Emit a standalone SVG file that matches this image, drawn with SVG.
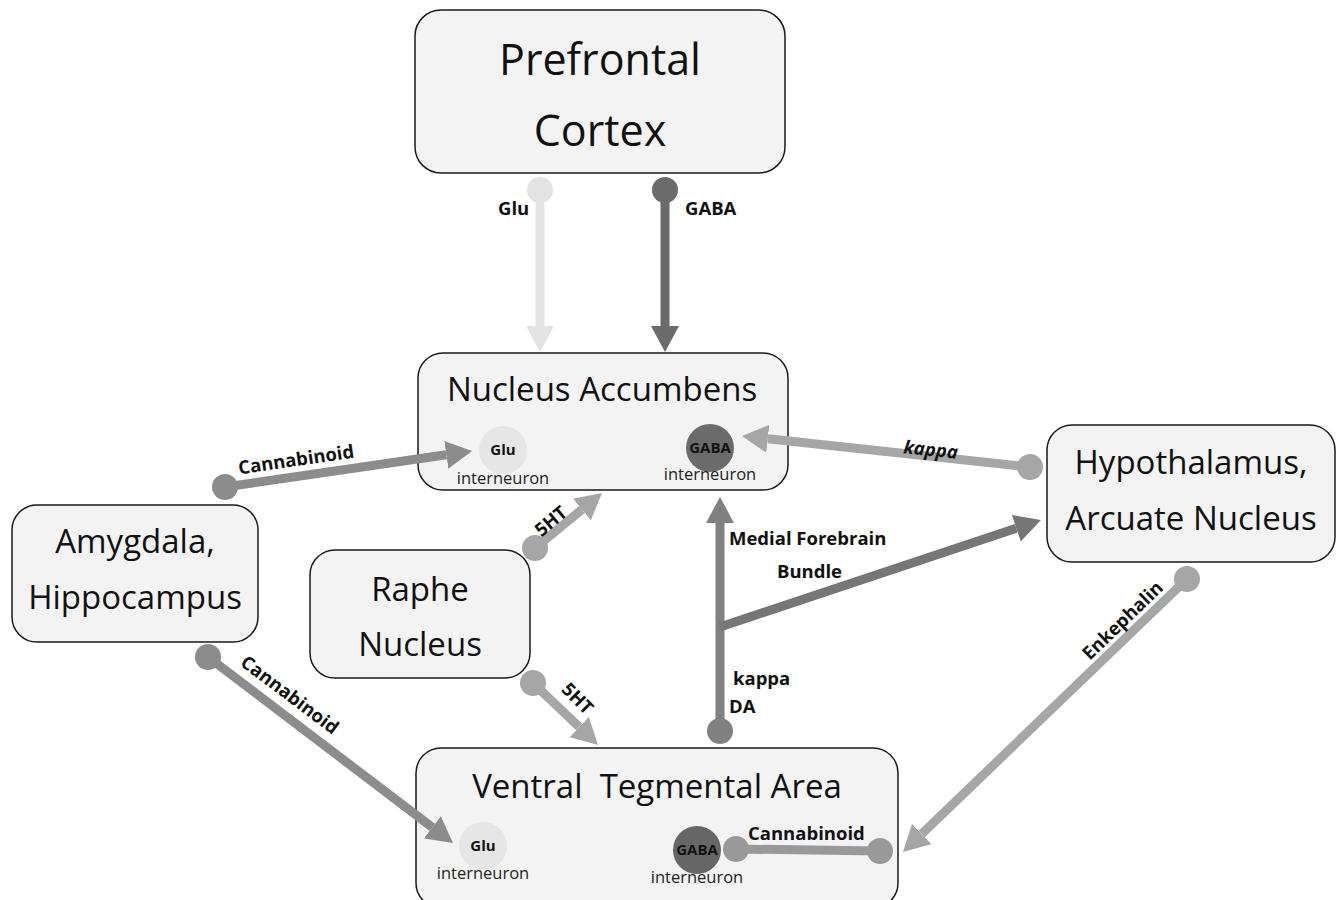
<svg xmlns="http://www.w3.org/2000/svg" width="1341" height="900" viewBox="0 0 1341 900">
<style>
.box{fill:#f3f3f3;stroke:#1a1a1a;stroke-width:1.5}
.title{font-family:"Open Sans","Liberation Sans",sans-serif;font-size:33px;fill:#111;text-anchor:middle}
.big{font-size:43px}
.lbl{font-family:"Open Sans","Liberation Sans",sans-serif;font-size:18.5px;font-weight:bold;fill:#111}
.small{font-family:"Open Sans","Liberation Sans",sans-serif;font-size:16.5px;fill:#222;text-anchor:middle}
.cin{font-family:"Open Sans","Liberation Sans",sans-serif;font-size:15px;font-weight:bold;fill:#111;text-anchor:middle}
.ln{fill:none;stroke-width:9}
</style>
<defs>
<marker id="aL" markerUnits="userSpaceOnUse" markerWidth="26" markerHeight="28" viewBox="0 0 26 28" refX="0" refY="14" orient="auto"><path d="M0,0 L26,14 L0,28 z" fill="#e3e3e3"/></marker>
<marker id="aD" markerUnits="userSpaceOnUse" markerWidth="26" markerHeight="28" viewBox="0 0 26 28" refX="0" refY="14" orient="auto"><path d="M0,0 L26,14 L0,28 z" fill="#6b6b6b"/></marker>
<marker id="aK" markerUnits="userSpaceOnUse" markerWidth="26" markerHeight="28" viewBox="0 0 26 28" refX="0" refY="14" orient="auto"><path d="M0,0 L26,14 L0,28 z" fill="#a6a6a6"/></marker>
<marker id="aC" markerUnits="userSpaceOnUse" markerWidth="26" markerHeight="28" viewBox="0 0 26 28" refX="0" refY="14" orient="auto"><path d="M0,0 L26,14 L0,28 z" fill="#8c8c8c"/></marker>
<marker id="aM" markerUnits="userSpaceOnUse" markerWidth="26" markerHeight="28" viewBox="0 0 26 28" refX="0" refY="14" orient="auto"><path d="M0,0 L26,14 L0,28 z" fill="#808080"/></marker>
<marker id="aB" markerUnits="userSpaceOnUse" markerWidth="26" markerHeight="28" viewBox="0 0 26 28" refX="0" refY="14" orient="auto"><path d="M0,0 L26,14 L0,28 z" fill="#767676"/></marker>
</defs>
<rect width="1341" height="900" fill="#fff"/>

<g id="prefrontal-cortex">
<rect class="box" x="415" y="10" width="370" height="163" rx="26"/>
<text class="title big" x="600" y="75">Prefrontal</text>
<text class="title big" x="600" y="146">Cortex</text>
</g>

<g id="nucleus-accumbens">
<rect class="box" x="418" y="353" width="370" height="137" rx="25"/>
<text class="title" x="602" y="401">Nucleus Accumbens</text>
<circle cx="503" cy="450" r="24" fill="#e6e6e6"/>
<text class="cin" x="503" y="455">Glu</text>
<text class="small" x="503" y="484">interneuron</text>
<circle cx="710" cy="448" r="24" fill="#6b6b6b"/>
<text class="cin" x="710" y="453">GABA</text>
<text class="small" x="710" y="480">interneuron</text>
</g>

<g id="hypothalamus">
<rect class="box" x="1047" y="425" width="288" height="137" rx="25"/>
<text class="title" x="1191" y="474">Hypothalamus,</text>
<text class="title" x="1191" y="530">Arcuate Nucleus</text>
</g>

<g id="amygdala-hippocampus">
<rect class="box" x="12" y="505" width="246" height="137" rx="25"/>
<text class="title" x="135" y="553">Amygdala,</text>
<text class="title" x="135" y="609">Hippocampus</text>
</g>

<g id="raphe-nucleus">
<rect class="box" x="310" y="550" width="220" height="128" rx="25"/>
<text class="title" x="420" y="601">Raphe</text>
<text class="title" x="420" y="656">Nucleus</text>
</g>

<g id="ventral-tegmental-area">
<rect class="box" x="416" y="748" width="482" height="160" rx="25"/>
<text class="title" x="657" y="798" xml:space="preserve">Ventral  Tegmental Area</text>
<circle cx="483" cy="846" r="24" fill="#e6e6e6"/>
<text class="cin" x="483" y="851">Glu</text>
<text class="small" x="483" y="879">interneuron</text>
<circle cx="697" cy="850" r="24" fill="#666"/>
<text class="cin" x="697" y="855">GABA</text>
<text class="small" x="697" y="883">interneuron</text>
</g>

<g id="connectors">
<!-- Glu PFC -> NAc -->
<line class="ln" x1="540" y1="190" x2="540" y2="326" stroke="#e3e3e3" stroke-width="8" marker-end="url(#aL)"/>
<circle cx="540" cy="190" r="13" fill="#e3e3e3"/>
<text class="lbl" x="498" y="215">Glu</text>
<!-- GABA PFC -> NAc -->
<line class="ln" x1="665" y1="190" x2="665" y2="326" stroke="#6b6b6b" stroke-width="8" marker-end="url(#aD)"/>
<circle cx="665" cy="190" r="13" fill="#6b6b6b"/>
<text class="lbl" x="685" y="215">GABA</text>
<!-- kappa Hypothalamus -> NAc GABA -->
<line class="ln" x1="1030" y1="467" x2="767.8" y2="438.8" stroke="#a6a6a6" marker-end="url(#aK)"/>
<circle cx="1030" cy="467" r="13" fill="#a6a6a6"/>
<text class="lbl" x="930" y="456" text-anchor="middle" font-style="italic" transform="rotate(6 930 456)">kappa</text>
<!-- Cannabinoid Amygdala -> NAc Glu -->
<line class="ln" x1="225" y1="487" x2="446.3" y2="454.8" stroke="#8c8c8c" marker-end="url(#aC)"/>
<circle cx="225" cy="487" r="13" fill="#8c8c8c"/>
<text class="lbl" x="297" y="466" text-anchor="middle" transform="rotate(-8.3 297 466)">Cannabinoid</text>
<!-- Cannabinoid Amygdala -> VTA Glu -->
<line class="ln" x1="208" y1="657" x2="432.3" y2="827.3" stroke="#8c8c8c" marker-end="url(#aC)"/>
<circle cx="208" cy="657" r="13" fill="#8c8c8c"/>
<text class="lbl" x="286" y="700" text-anchor="middle" transform="rotate(37 286 700)">Cannabinoid</text>
<!-- 5HT Raphe -> NAc -->
<line class="ln" x1="535" y1="548" x2="581.9" y2="509.5" stroke="#a6a6a6" marker-end="url(#aK)"/>
<circle cx="535" cy="548" r="13" fill="#a6a6a6"/>
<text class="lbl" x="555" y="526" text-anchor="middle" transform="rotate(-40 555 526)">5HT</text>
<!-- 5HT Raphe -> VTA -->
<line class="ln" x1="533" y1="683" x2="579.2" y2="727.1" stroke="#a6a6a6" marker-end="url(#aK)"/>
<circle cx="533" cy="683" r="13" fill="#a6a6a6"/>
<text class="lbl" x="573" y="703" text-anchor="middle" transform="rotate(45 573 703)">5HT</text>
<!-- Medial Forebrain Bundle -->
<line class="ln" x1="720" y1="731" x2="720" y2="523" stroke="#808080" marker-end="url(#aM)"/>
<line class="ln" x1="720" y1="627" x2="1016.3" y2="528.2" stroke="#767676" marker-end="url(#aB)"/>
<circle cx="720" cy="731" r="13" fill="#808080"/>
<text class="lbl" x="729" y="545">Medial Forebrain</text>
<text class="lbl" x="777" y="578">Bundle</text>
<text class="lbl" x="733" y="685">kappa</text>
<text class="lbl" x="729" y="713">DA</text>
<!-- Enkephalin Hypothalamus -> VTA -->
<line class="ln" x1="1187" y1="579" x2="921.7" y2="834" stroke="#a6a6a6" marker-end="url(#aK)"/>
<circle cx="1187" cy="579" r="13" fill="#a6a6a6"/>
<text class="lbl" x="1127" y="625" text-anchor="middle" transform="rotate(-44 1127 625)">Enkephalin</text>
<!-- Cannabinoid within VTA -->
<line class="ln" x1="736" y1="849" x2="880" y2="851" stroke="#999"/>
<circle cx="736" cy="849" r="13" fill="#999"/>
<circle cx="880" cy="851" r="13" fill="#999"/>
<text class="lbl" x="748" y="840">Cannabinoid</text>
</g>
</svg>
